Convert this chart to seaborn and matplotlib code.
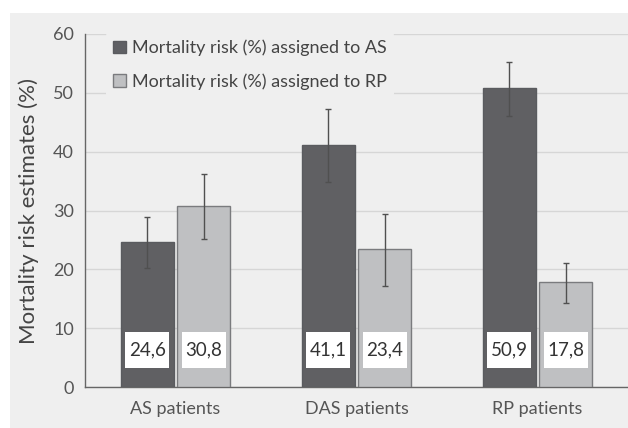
import matplotlib
matplotlib.use("Agg")
import matplotlib.pyplot as plt
import seaborn as sns
import pandas as pd
from matplotlib.patches import Rectangle, Patch

groups = ["AS patients", "DAS patients", "RP patients"]
series = ["Mortality risk (%) assigned to AS", "Mortality risk (%) assigned to RP"]
values_as = [24.6, 41.1, 50.9]
values_rp = [30.8, 23.4, 17.8]
err_low_as = [20.2, 34.8, 46.1]
err_high_as = [28.9, 47.2, 55.3]
err_low_rp = [25.2, 17.2, 14.3]
err_high_rp = [36.2, 29.4, 21.1]
labels_as = ["24,6", "41,1", "50,9"]
labels_rp = ["30,8", "23,4", "17,8"]
yticks = [0, 10, 20, 30, 40, 50, 60]

df = pd.DataFrame({
    "group": groups * 2,
    "series": [series[0]] * 3 + [series[1]] * 3,
    "value": values_as + values_rp,
})

sns.set_theme(style="white")
plt.rcParams["font.family"] = ["Lato", "DejaVu Sans"]

panel = "#efefef"
dark = "#5f6064"
light = "#bfc0c2"
txt = "#555555"

fig = plt.figure(figsize=(6.28, 4.28), dpi=100)
fig.patches.append(Rectangle((10 / 628, 0), 1, (428 - 13) / 428,
                             transform=fig.transFigure, facecolor=panel,
                             edgecolor="none", zorder=-10))
ax = fig.add_axes([85 / 628, (428 - 387) / 428, 1 - 85 / 628, (387 - 34) / 428])
ax.set_facecolor(panel)

sns.barplot(data=df, x="group", y="value", hue="series", order=groups,
            hue_order=series, palette=[dark, light], width=0.625, gap=0.07,
            errorbar=None, ax=ax, legend=False, zorder=3)

edges = ["#5a5b5f", "#7a7b7e"]
containers = list(ax.containers)[:2]
lows = [err_low_as, err_low_rp]
highs = [err_high_as, err_high_rp]
vals = [values_as, values_rp]
labs = [labels_as, labels_rp]
box_w = 0.243
box_lo, box_hi = 3.25, 9.35
for si, cont in enumerate(containers):
    for bi, bar in enumerate(list(cont.patches)):
        bar.set_edgecolor(edges[si])
        bar.set_linewidth(1.0)
        cx = bar.get_x() + bar.get_width() / 2
        v = vals[si][bi]
        ax.errorbar([cx], [v], yerr=[[v - lows[si][bi]], [highs[si][bi] - v]],
                    fmt="none", ecolor="#505050", elinewidth=1.0, capsize=2.5,
                    capthick=1.0, zorder=4)
        ax.add_patch(Rectangle((cx - box_w / 2, box_lo), box_w, box_hi - box_lo,
                               facecolor="white", edgecolor="none", zorder=5))
        ax.text(cx, (box_lo + box_hi) / 2, labs[si][bi], ha="center", va="center",
                fontsize=13.5, color="#333333", zorder=6)

ax.set_ylim(0, 60)
ax.set_xlim(-0.5, 2.5)
ax.set_yticks(yticks)
ax.yaxis.grid(True, color="#d6d6d6", linewidth=1.0, zorder=0)
ax.set_axisbelow(True)
ax.tick_params(axis="both", length=0, labelsize=13, labelcolor=txt, pad=8)
ax.tick_params(axis="x", pad=10)
ax.set_xlabel("")
ax.set_ylabel("Mortality risk estimates (%)", fontsize=16, color="#444444", labelpad=10)
for s in ["top", "right"]:
    ax.spines[s].set_visible(False)
for s in ["left", "bottom"]:
    ax.spines[s].set_color("#666666")
    ax.spines[s].set_linewidth(1.0)

handles = [Patch(facecolor=dark, edgecolor="#5a5b5f"),
           Patch(facecolor=light, edgecolor="#7a7b7e")]
leg = ax.legend(handles, series, loc="upper left", bbox_to_anchor=(0.022, 1.03),
                frameon=True, facecolor=panel, edgecolor="none", framealpha=1,
                fontsize=13, handlelength=0.7, handleheight=0.7,
                handletextpad=0.35, labelspacing=0.95, borderpad=0.4)
for t in leg.get_texts():
    t.set_color("#444444")
leg.set_zorder(7)

fig.savefig("out.png", dpi=100, facecolor="white")
